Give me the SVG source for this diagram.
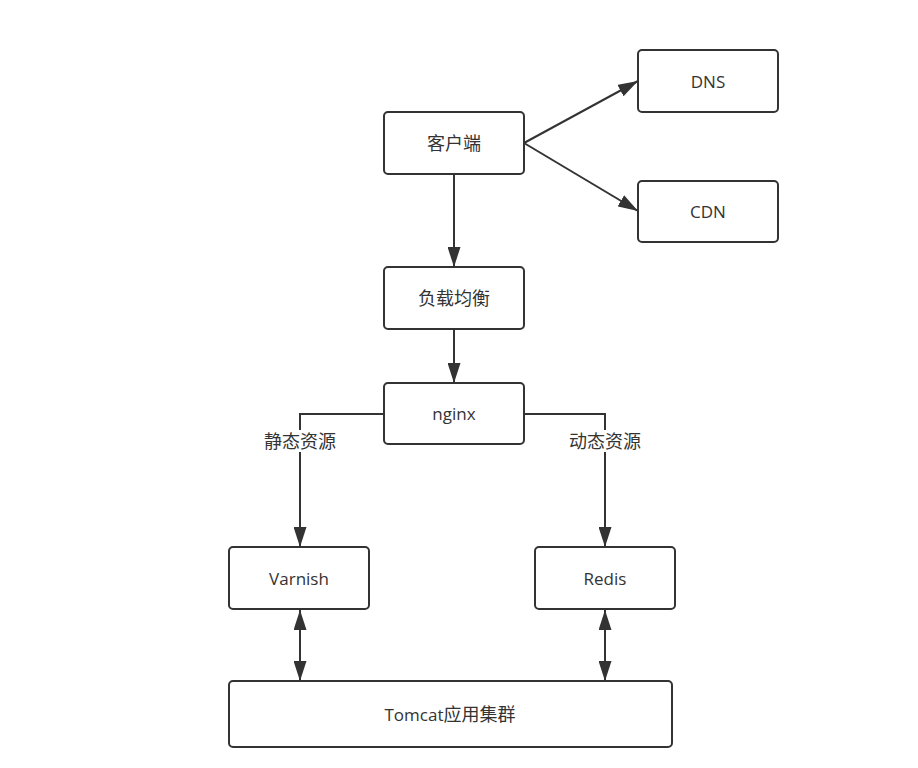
<svg xmlns="http://www.w3.org/2000/svg" width="918" height="768" viewBox="0 0 918 768">
<style>
.n{fill:#fff;stroke:#333;stroke-width:2}
.t{font-family:"Open Sans","Noto Sans CJK SC",sans-serif;font-size:17px;fill:#333;text-anchor:middle;dominant-baseline:central}
.z{font-size:18px}
.c{fill:none;stroke:#333;stroke-width:2}
.lb{fill:#fff}
</style>
<defs>
<marker id="a" viewBox="0 0 20 13" refX="20" refY="6.5" markerWidth="20" markerHeight="13" markerUnits="userSpaceOnUse" orient="auto-start-reverse">
<path d="M0,0 L20,6.5 L0,13 Z" fill="#333"/>
</marker>
</defs>
<rect width="918" height="768" fill="#fff"/>
<g id="connectors">
<path class="c" d="M524,143 L638,81" marker-end="url(#a)"/>
<path class="c" d="M524,143 L638,211" marker-end="url(#a)"/>
<path class="c" d="M454,174 L454,267" marker-end="url(#a)"/>
<path class="c" d="M454,329 L454,383" marker-end="url(#a)"/>
<path class="c" d="M384,414 L300,414 L300,547" marker-end="url(#a)"/>
<path class="c" d="M524,414 L605,414 L605,547" marker-end="url(#a)"/>
<path class="c" d="M300,610 L300,681" marker-start="url(#a)" marker-end="url(#a)"/>
<path class="c" d="M605,610 L605,681" marker-start="url(#a)" marker-end="url(#a)"/>
<rect class="lb" x="262" y="430" width="76" height="22"/>
<text class="t z" x="300" y="441">静态资源</text>
<rect class="lb" x="567" y="430" width="76" height="22"/>
<text class="t z" x="605" y="441">动态资源</text>
</g>
<g id="client"><rect class="n" x="384" y="112" width="140" height="62" rx="4"/><text class="t z" x="454" y="143">客户端</text></g>
<g id="dns"><rect class="n" x="638" y="50" width="140" height="62" rx="4"/><text class="t" x="708" y="81">DNS</text></g>
<g id="cdn"><rect class="n" x="638" y="181" width="140" height="61" rx="4"/><text class="t" x="708" y="211">CDN</text></g>
<g id="lb"><rect class="n" x="384" y="267" width="140" height="62" rx="4"/><text class="t z" x="454" y="298">负载均衡</text></g>
<g id="nginx"><rect class="n" x="384" y="383" width="140" height="61" rx="4"/><text class="t" x="454" y="413">nginx</text></g>
<g id="varnish"><rect class="n" x="229" y="547" width="140" height="62" rx="4"/><text class="t" x="299" y="578">Varnish</text></g>
<g id="redis"><rect class="n" x="535" y="547" width="140" height="62" rx="4"/><text class="t" x="605" y="578">Redis</text></g>
<g id="tomcat"><rect class="n" x="229" y="681" width="443" height="66" rx="4"/><text class="t" x="450" y="714">Tomcat<tspan class="z">应用集群</tspan></text></g>
</svg>
